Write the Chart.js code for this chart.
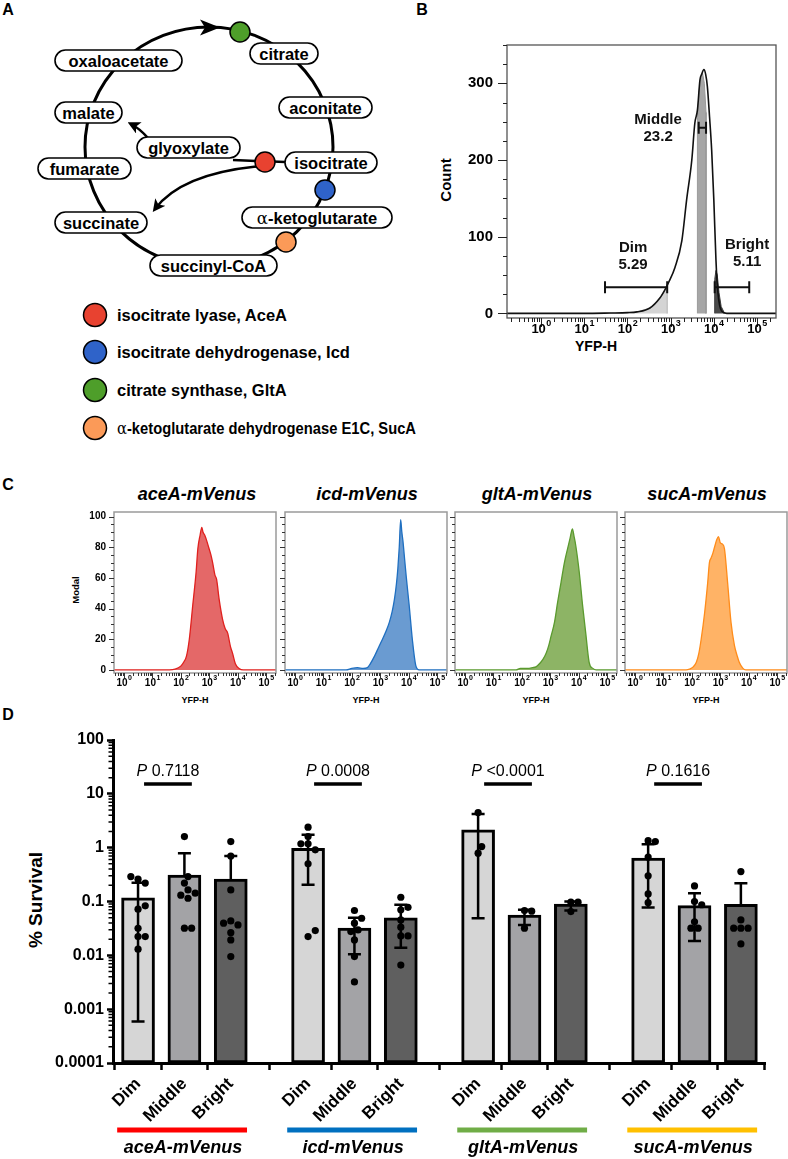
<!DOCTYPE html>
<html>
<head>
<meta charset="utf-8">
<script src="https://cdn.jsdelivr.net/npm/chart.js@4.4.1/dist/chart.umd.min.js"></script>
<style>
  html, body { margin: 0; padding: 0; background: #fff; }
  #page { position: relative; width: 788px; height: 1159px; overflow: hidden;
          font-family: "Liberation Sans", Arial, Helvetica, sans-serif; color: #000; }
  .t { position: absolute; white-space: nowrap; font-weight: bold; line-height: 1; transform: translate(-50%, -50%); }
  .v { position: absolute; white-space: nowrap; font-weight: bold; line-height: 1; transform: translate(-50%, -50%) rotate(-90deg); }
  .it { font-style: italic; }
  canvas { position: absolute; }
</style>
</head>
<body>
<div id="page">

  <!-- A: ciclo TCA / shunt del gliossilato -->
  <svg width="788" height="450" style="position:absolute;left:0;top:0"
       font-family="Liberation Sans, Arial, sans-serif" font-weight="bold" font-size="16.5">
    <defs>
      <marker id="ah" viewBox="0 0 10 10" refX="7" refY="5" markerWidth="5" markerHeight="5" orient="auto">
        <path d="M0,0 L10,5 L0,10 L2.5,5 Z" fill="#000"/>
      </marker>
    </defs>
    <ellipse cx="209" cy="147" rx="124" ry="120" fill="none" stroke="#000" stroke-width="3"/>
    <path d="M200,19.5 L220,27.5 L200,35.5 L205,27.5 Z" fill="#000"/>
    <path d="M233,160 L285,162" stroke="#000" stroke-width="2.5"/>
    <path d="M148,138 Q139,128 131,124" fill="none" stroke="#000" stroke-width="2.5" marker-end="url(#ah)"/>
    <path d="M262,166 Q182,173 155,209" fill="none" stroke="#000" stroke-width="2.5" marker-end="url(#ah)"/>

    <g fill="#fff" stroke="#000" stroke-width="1.6">
      <rect x="55" y="50" width="127" height="21" rx="10.5"/>
      <rect x="250" y="43" width="68" height="21" rx="10.5"/>
      <rect x="279" y="97" width="93" height="21" rx="10.5"/>
      <rect x="55" y="102" width="67" height="21" rx="10.5"/>
      <rect x="137" y="137" width="103" height="21" rx="10.5"/>
      <rect x="285" y="152" width="92" height="21" rx="10.5"/>
      <rect x="38" y="158" width="93" height="21" rx="10.5"/>
      <rect x="242" y="207" width="150" height="21" rx="10.5"/>
      <rect x="55" y="212" width="92" height="21" rx="10.5"/>
      <rect x="150" y="255" width="127" height="21" rx="10.5"/>
    </g>
    <g text-anchor="middle" dominant-baseline="central" fill="#000">
      <text x="118.5" y="61">oxaloacetate</text>
      <text x="284" y="54">citrate</text>
      <text x="325.5" y="108">aconitate</text>
      <text x="88.5" y="113">malate</text>
      <text x="188.5" y="148">glyoxylate</text>
      <text x="331" y="163">isocitrate</text>
      <text x="84.5" y="169">fumarate</text>
      <text x="317" y="218"><tspan font-family="DejaVu Serif, Liberation Serif, serif" font-weight="normal">α</tspan>-ketoglutarate</text>
      <text x="101" y="223">succinate</text>
      <text x="213.5" y="266">succinyl-CoA</text>
    </g>
    <g stroke="#000" stroke-width="1.5">
      <circle cx="240" cy="32" r="10" fill="#4e9e2a"/>
      <circle cx="265" cy="162" r="10" fill="#e84230"/>
      <circle cx="325" cy="190" r="10" fill="#2f63c9"/>
      <circle cx="286" cy="242" r="10" fill="#fb9a58"/>
      <circle cx="95" cy="315" r="11.5" fill="#e84230"/>
      <circle cx="95" cy="352" r="11.5" fill="#2f63c9"/>
      <circle cx="95" cy="390" r="11.5" fill="#4e9e2a"/>
      <circle cx="95" cy="428" r="11.5" fill="#fb9a58"/>
    </g>
    <g font-size="16.5" dominant-baseline="central" fill="#000">
      <text x="117" y="315">isocitrate lyase, AceA</text>
      <text x="117" y="352">isocitrate dehydrogenase, Icd</text>
      <text x="117" y="390">citrate synthase, GltA</text>
      <text x="117" y="428" textLength="299" lengthAdjust="spacingAndGlyphs"><tspan font-family="DejaVu Serif, Liberation Serif, serif" font-weight="normal">α</tspan>-ketoglutarate dehydrogenase E1C, SucA</text>
    </g>
  </svg>

  <div class="t" style="left:8px;top:10px;font-size:16px">A</div>
  <div class="t" style="left:422px;top:10px;font-size:16px">B</div>
  <div class="t" style="left:8px;top:485px;font-size:16px">C</div>
  <div class="t" style="left:8px;top:715px;font-size:16px">D</div>

  <div class="v" style="left:445px;top:180px;font-size:15px">Count</div>
  <div class="t" style="left:596px;top:346px;font-size:14px">YFP-H</div>

  <div class="t it" style="left:197px;top:494px;font-size:18px">aceA-mVenus</div>
  <div class="t it" style="left:367px;top:494px;font-size:18px">icd-mVenus</div>
  <div class="t it" style="left:537px;top:494px;font-size:18px">gltA-mVenus</div>
  <div class="t it" style="left:707px;top:494px;font-size:18px">sucA-mVenus</div>
  <div class="v" style="left:76px;top:590px;font-size:9.5px">Modal</div>
  <div class="t" style="left:195px;top:700px;font-size:9px">YFP-H</div>
  <div class="t" style="left:366px;top:700px;font-size:9px">YFP-H</div>
  <div class="t" style="left:536px;top:700px;font-size:9px">YFP-H</div>
  <div class="t" style="left:706px;top:700px;font-size:9px">YFP-H</div>

  <div class="v" style="left:35px;top:900px;font-size:19px">% Survival</div>

  <canvas id="cB" width="368" height="329" style="left:420px;top:21px"></canvas>
  <canvas id="cC0" width="210" height="209" style="left:69px;top:496px"></canvas>
  <canvas id="cC1" width="210" height="209" style="left:240px;top:496px"></canvas>
  <canvas id="cC2" width="210" height="209" style="left:410px;top:496px"></canvas>
  <canvas id="cC3" width="210" height="209" style="left:580px;top:496px"></canvas>
  <canvas id="cD" width="788" height="434" style="left:0;top:725px"></canvas>
</div>

<script>
const FONT = '"Liberation Sans", Arial, Helvetica, sans-serif';

// ---- B: istogramma YFP-H (x = log10 fluorescenza) ----
const bAllX = [-0.8, 1.0, 1.6, 2.0, 2.22, 2.52, 2.75, 2.87, 2.95, 3.1, 3.26, 3.37, 3.49, 3.56, 3.62, 3.68, 3.72, 3.77, 3.81, 3.85, 3.9, 3.95, 4.0, 4.05, 4.09, 4.18, 4.3, 5.44];
const bAllY = [0, 0, 0.5, 1, 2, 7, 20, 31, 40, 60, 95, 148, 200, 248, 265, 305, 312, 318, 312, 296, 257, 213, 148, 69, 30, 3, 0, 0];
const bDimX = [1.48, 2.0, 2.22, 2.52, 2.75, 2.87, 2.92, 2.92];
const bDimY = [0, 1, 2, 7, 20, 31, 38, 0];
const bMidX = [3.62, 3.62, 3.66, 3.70, 3.74, 3.78, 3.82, 3.82];
const bMidY = [0, 255, 290, 308, 313, 300, 262, 0];
const bBrtX = [4.02, 4.02, 4.05, 4.08, 4.12, 4.17, 4.25];
const bBrtY = [0, 44, 56, 50, 27, 9, 0];
const bGateName = ['Dim', 'Middle', 'Bright'];
const bGatePct = ['5.29', '23.2', '5.11'];
const bGateLo = [1.48, 3.65, 4.02];
const bGateHi = [2.92, 3.82, 4.82];
const bGateAt = [34, 242, 34];
const bLabelX = [2.13, 2.71, 4.77];
const bLabelY = [85, 252, 90];
const bYTicks = [0, 100, 200, 300];

// ---- C: istogrammi normalizzati (Modal) ----
const cYTicks = [0, 20, 40, 60, 80, 100];
const aceX = [-0.35, 1.6, 1.8, 2.0, 2.1, 2.2, 2.3, 2.42, 2.54, 2.6, 2.68, 2.74, 2.78, 2.84, 2.9, 2.98, 3.06, 3.12, 3.2, 3.26, 3.35, 3.47, 3.56, 3.65, 3.75, 3.82, 3.92, 4.05, 4.2, 5.35];
const aceY = [0, 0, 0.5, 2.5, 5, 9, 20, 42, 64, 79, 88, 93, 90, 88, 85, 80, 75, 70, 62, 59, 46, 33, 27, 24, 15, 11, 4, 1, 0, 0];
const icdX = [-0.35, 1.8, 2.0, 2.2, 2.4, 2.55, 2.65, 2.8, 2.95, 3.08, 3.2, 3.32, 3.42, 3.5, 3.57, 3.62, 3.67, 3.72, 3.76, 3.8, 3.86, 3.92, 4.02, 4.13, 4.25, 4.37, 5.35];
const icdY = [0, 0, 1, 1.5, 1, 1.5, 4, 9, 15, 20, 25, 31, 38, 46, 56, 66, 80, 98, 90, 84, 72, 60, 42, 20, 3, 0, 0];
const gltX = [-0.35, 1.8, 1.95, 2.2, 2.38, 2.5, 2.62, 2.75, 2.86, 2.95, 3.03, 3.15, 3.26, 3.38, 3.5, 3.61, 3.7, 3.78, 3.84, 3.9, 4.02, 4.14, 4.25, 4.37, 4.5, 4.62, 5.35];
const gltY = [0, 0, 1, 1, 1.5, 2, 4, 7, 11, 16, 22, 31, 44, 57, 70, 79, 86, 92, 87, 81, 64, 42, 24, 5, 1, 0, 0];
const sucX = [-0.35, 1.8, 1.92, 2.05, 2.16, 2.25, 2.33, 2.45, 2.56, 2.62, 2.68, 2.74, 2.8, 2.88, 2.94, 3.0, 3.08, 3.15, 3.26, 3.38, 3.5, 3.6, 3.67, 3.8, 3.9, 5.35];
const sucY = [0, 0, 0.5, 2, 5, 11, 20, 37, 57, 70, 73, 76, 80, 85, 87, 83, 82, 79, 57, 31, 16, 9, 5, 1, 0, 0];

// ---- D: % sopravvivenza per ceppo e gate ----
const strains = ['aceA-mVenus', 'icd-mVenus', 'gltA-mVenus', 'sucA-mVenus'];
const strainColors = ['#ff0000', '#0070c0', '#70ad47', '#ffc000'];
const gateNames = ['Dim', 'Middle', 'Bright'];
const gateFill = ['#d6d6d6', '#a3a3a6', '#5f5f5f'];
const survMean = [0.117, 0.31, 0.26, 0.97, 0.032, 0.05, 2.14, 0.056, 0.09, 0.64, 0.084, 0.089];
const survHigh = [0.224, 0.79, 0.70, 1.73, 0.050, 0.087, 4.2, 0.07, 0.10, 1.16, 0.143, 0.218];
const survLow = [0.00059, null, null, 0.204, 0.0105, 0.0139, 0.049, 0.0367, 0.068, 0.077, 0.0185, null];
const survDots = [
  [0.26, 0.22, 0.29, 0.072, 0.083, 0.0223, 0.0223, 0.0318, 0.013],
  [1.61, 0.22, 0.29, 0.164, 0.131, 0.115, 0.143, 0.032, 0.032],
  [1.30, 0.70, 0.164, 0.0436, 0.0367, 0.0395, 0.0264, 0.0193, 0.0095],
  [2.40, 1.61, 1.18, 0.91, 1.18, 0.50, 0.0223, 0.0288],
  [0.068, 0.0395, 0.0489, 0.0297, 0.0276, 0.0193, 0.0095, 0.0032],
  [0.12, 0.070, 0.078, 0.0455, 0.0333, 0.0229, 0.0229, 0.0066],
  [4.49, 0.79, 1.05],
  [0.068, 0.066, 0.032],
  [0.097, 0.097, 0.065],
  [1.35, 1.30, 0.67, 0.30, 0.138, 0.095],
  [0.195, 0.1, 0.087, 0.042, 0.032, 0.032],
  [0.36, 0.0455, 0.032, 0.032, 0.032, 0.0163]
];
const pText = ['0.7118', '0.0008', '<0.0001', '0.1616'];
const pLineAt = 15.3, pTextAt = 25.6;
const yDecades = [1e-4, 1e-3, 1e-2, 1e-1, 1, 10, 100];

const pts = (xs, ys) => xs.map((x, i) => ({ x, y: ys[i] }));
const barPos = survMean.map((_, i) => Math.floor(i / 3) * 11 / 3 + (i % 3));

// "10" con esponente, come nelle etichette FlowJo
function drawPow(ctx, x, top, e, size) {
  const big = `bold ${size}px ${FONT}`, small = `bold ${Math.round(size * 0.72)}px ${FONT}`;
  ctx.font = big; const w1 = ctx.measureText('10').width;
  ctx.font = small; const w2 = ctx.measureText(String(e)).width;
  const x0 = x - (w1 + w2) / 2;
  ctx.textBaseline = 'top'; ctx.textAlign = 'left'; ctx.fillStyle = '#000';
  ctx.font = big; ctx.fillText('10', x0, top);
  ctx.font = small; ctx.fillText(String(e), x0 + w1 + 0.5, top - size * 0.32);
}

// cornice + tacche (maggiori/minori) per gli istogrammi citometrici
function flowDecor(o) {
  return {
    id: 'flowDecor',
    afterDraw(chart) {
      const { ctx, chartArea: a, scales: { x, y } } = chart;
      ctx.save();
      ctx.strokeStyle = o.frame; ctx.lineWidth = o.frameW;
      ctx.strokeRect(a.left, a.top, a.right - a.left, a.bottom - a.top);
      ctx.strokeStyle = o.tick; ctx.lineWidth = 1;
      ctx.beginPath();
      for (let v = Math.ceil(y.min / o.yMinor) * o.yMinor; v <= y.max; v += o.yMinor) {
        const py = Math.round(y.getPixelForValue(v)) + 0.5;
        ctx.moveTo(a.left, py); ctx.lineTo(a.left - (v % o.yMajor === 0 ? o.majLen : o.minLen), py);
      }
      for (let d = Math.floor(x.min); d <= Math.ceil(x.max); d++) {
        for (let k = 1; k <= 9; k++) {
          const v = d + Math.log10(k);
          if (v < x.min || v > x.max) continue;
          const px = Math.round(x.getPixelForValue(v)) + 0.5;
          ctx.moveTo(px, a.bottom); ctx.lineTo(px, a.bottom + (k === 1 ? o.majLen : o.minLen));
        }
      }
      ctx.stroke();
      for (let d = 0; d <= 5; d++) drawPow(ctx, x.getPixelForValue(d), a.bottom + o.labGap, d, o.labSize);
      ctx.restore();
    }
  };
}

const bGates = {
  id: 'bGates',
  afterDatasetsDraw(chart) {
    const { ctx, scales: { x, y } } = chart;
    ctx.save();
    ctx.strokeStyle = '#111'; ctx.fillStyle = '#111'; ctx.lineWidth = 2;
    bGateLo.forEach((lo, i) => {
      const x0 = x.getPixelForValue(lo), x1 = x.getPixelForValue(bGateHi[i]), py = y.getPixelForValue(bGateAt[i]);
      ctx.beginPath();
      ctx.moveTo(x0, py); ctx.lineTo(x1, py);
      ctx.moveTo(x0, py - 6); ctx.lineTo(x0, py + 6);
      ctx.moveTo(x1, py - 6); ctx.lineTo(x1, py + 6);
      ctx.stroke();
      const lx = x.getPixelForValue(bLabelX[i]), ly = y.getPixelForValue(bLabelY[i]);
      ctx.font = `bold 15px ${FONT}`; ctx.textAlign = 'center'; ctx.textBaseline = 'middle';
      ctx.fillText(bGateName[i], lx, ly);
      ctx.fillText(bGatePct[i], lx, ly + 17);
    });
    ctx.restore();
  }
};

const common = {
  responsive: false, animation: false, events: [], devicePixelRatio: 1,
  plugins: { legend: { display: false }, tooltip: { enabled: false } }
};

// ---- B ----
new Chart(document.getElementById('cB'), {
  type: 'line',
  data: {
    datasets: [
      { data: pts(bAllX, bAllY), fill: false, borderColor: '#111', borderWidth: 1.6, pointRadius: 0, cubicInterpolationMode: 'monotone' },
      { data: pts(bDimX, bDimY), fill: 'origin', backgroundColor: '#d4d4d4', borderColor: '#c6c6c6', borderWidth: 1, pointRadius: 0, tension: 0 },
      { data: pts(bMidX, bMidY), fill: 'origin', backgroundColor: '#a6a6a6', borderColor: '#999', borderWidth: 1, pointRadius: 0, tension: 0 },
      { data: pts(bBrtX, bBrtY), fill: 'origin', backgroundColor: '#4a4a4a', borderColor: '#3a3a3a', borderWidth: 1, pointRadius: 0, tension: 0 }
    ]
  },
  options: {
    ...common,
    layout: { padding: { top: 24, right: 12, left: 0, bottom: 0 } },
    scales: {
      x: { type: 'linear', min: -0.79, max: 5.44, afterFit: s => { s.height = 32; },
           ticks: { display: false }, grid: { display: false }, border: { display: false } },
      y: { type: 'linear', min: -6, max: 350, afterFit: s => { s.width = 87; },
           afterBuildTicks: s => { s.ticks = bYTicks.map(v => ({ value: v })); },
           ticks: { padding: 14, color: '#000', font: { family: FONT, size: 15, weight: 'bold' } },
           grid: { display: false, drawTicks: false }, border: { display: false } }
    }
  },
  plugins: [flowDecor({ frame: '#555', frameW: 1.3, tick: '#222', yMajor: 100, yMinor: 25, majLen: 9, minLen: 4, labGap: 5, labSize: 13 }), bGates]
});

// ---- C ----
function flowHist(id, xs, ys, fillCol, lineCol, showY) {
  return new Chart(document.getElementById(id), {
    type: 'line',
    data: { datasets: [{ data: pts(xs, ys), fill: 'origin', backgroundColor: fillCol, borderColor: lineCol, borderWidth: 1.3, pointRadius: 0, cubicInterpolationMode: 'monotone' }] },
    options: {
      ...common,
      layout: { padding: { top: 16, right: 3, left: 0, bottom: 0 } },
      scales: {
        x: { type: 'linear', min: -0.35, max: 5.35, afterFit: s => { s.height = 32; },
             ticks: { display: false }, grid: { display: false }, border: { display: false } },
        y: { type: 'linear', min: -2, max: 103, afterFit: s => { s.width = 45; },
             afterBuildTicks: s => { s.ticks = cYTicks.map(v => ({ value: v })); },
             ticks: { display: showY, padding: 8, color: '#000', font: { family: FONT, size: 10, weight: 'bold' } },
             grid: { display: false, drawTicks: false }, border: { display: false } }
      }
    },
    plugins: [flowDecor({ frame: '#9a9a9a', frameW: 1.5, tick: '#333', yMajor: 20, yMinor: 5, majLen: 5, minLen: 3, labGap: 5, labSize: 10 })]
  });
}
flowHist('cC0', aceX, aceY, '#e46868', '#e0201e', true);
flowHist('cC1', icdX, icdY, '#6a9bd1', '#1f6fc0', false);
flowHist('cC2', gltX, gltY, '#8db465', '#5a9a2e', false);
flowHist('cC3', sucX, sucY, '#ffb366', '#ff8c1a', false);

// ---- D ----
const survDecor = {
  id: 'survDecor',
  afterDatasetDraw(chart, args) {
    if (args.index !== 1) return;        // barre di errore sopra le barre, sotto i punti
    const { ctx, scales: { x, y } } = chart;
    ctx.save();
    ctx.strokeStyle = '#000'; ctx.lineWidth = 2.5;
    barPos.forEach((p, i) => {
      const px = x.getPixelForValue(p);
      const yh = y.getPixelForValue(survHigh[i]);
      const yl = y.getPixelForValue(survLow[i] ?? survMean[i]);
      ctx.beginPath();
      ctx.moveTo(px, yl); ctx.lineTo(px, yh);
      ctx.moveTo(px - 6.5, yh); ctx.lineTo(px + 6.5, yh);
      if (survLow[i] != null) { ctx.moveTo(px - 6.5, yl); ctx.lineTo(px + 6.5, yl); }
      ctx.stroke();
    });
    ctx.restore();
  },
  afterDraw(chart) {
    const { ctx, chartArea: a, scales: { x, y } } = chart;
    ctx.save();
    ctx.strokeStyle = '#000'; ctx.lineWidth = 1.5;
    ctx.beginPath();
    for (let d = -4; d < 2; d++) for (let k = 2; k <= 9; k++) {
      const py = y.getPixelForValue(k * Math.pow(10, d));
      ctx.moveTo(a.left - 1, py); ctx.lineTo(a.left - 4.5, py);
    }
    ctx.stroke();
    strains.forEach((s, g) => {
      const x0 = x.getPixelForValue(barPos[g * 3] + 0.13), x1 = x.getPixelForValue(barPos[g * 3 + 1] + 0.16);
      const ly = y.getPixelForValue(pLineAt), ty = y.getPixelForValue(pTextAt);
      ctx.strokeStyle = '#000'; ctx.lineWidth = 3.5;
      ctx.beginPath(); ctx.moveTo(x0, ly); ctx.lineTo(x1, ly); ctx.stroke();
      const fI = `italic 16px ${FONT}`, fN = `16px ${FONT}`;
      ctx.font = fI; const wP = ctx.measureText('P').width;
      ctx.font = fN; const wV = ctx.measureText(' ' + pText[g]).width;
      const tx = (x0 + x1) / 2 - (wP + wV) / 2;
      ctx.fillStyle = '#000'; ctx.textAlign = 'left'; ctx.textBaseline = 'middle';
      ctx.font = fI; ctx.fillText('P', tx, ty);
      ctx.font = fN; ctx.fillText(' ' + pText[g], tx + wP, ty);
      // barra colorata e nome del ceppo
      const gx0 = x.getPixelForValue(barPos[g * 3] - 0.45), gx1 = x.getPixelForValue(barPos[g * 3 + 2] + 0.35);
      ctx.strokeStyle = strainColors[g]; ctx.lineWidth = 5;
      ctx.beginPath(); ctx.moveTo(gx0, a.bottom + 67); ctx.lineTo(gx1, a.bottom + 67); ctx.stroke();
      ctx.font = `italic bold 18px ${FONT}`; ctx.textAlign = 'center';
      ctx.fillText(s, x.getPixelForValue(barPos[g * 3 + 1] - 0.03), a.bottom + 85);
    });
    ctx.restore();
  }
};

const chartD = new Chart(document.getElementById('cD'), {
  type: 'bar',
  data: {
    datasets: [
      { type: 'scatter', data: [], pointRadius: 3.6, backgroundColor: '#000', borderWidth: 0 },
      { type: 'bar', data: barPos.map((x, i) => ({ x, y: survMean[i] })),
        backgroundColor: survMean.map((_, i) => gateFill[i % 3]), borderColor: '#000', borderWidth: 3,
        borderSkipped: false, barThickness: 33, grouped: false }
    ]
  },
  options: {
    ...common,
    layout: { padding: { top: 15, right: 23, left: 0, bottom: 0 } },
    scales: {
      x: { type: 'linear', min: -0.54, max: 13.52, offset: false,
           afterBuildTicks: s => { s.ticks = barPos.map(v => ({ value: v })); },
           afterFit: s => { s.height = 96; },
           ticks: { autoSkip: false, minRotation: 45, maxRotation: 45, padding: 4, color: '#000',
                    font: { family: FONT, size: 17, weight: 'bold' }, callback: (v, i) => gateNames[i % 3] },
           grid: { drawOnChartArea: false, drawTicks: true, tickLength: 7, tickWidth: 2.5, tickColor: '#000' },
           border: { display: true, width: 3, color: '#000' } },
      y: { type: 'logarithmic', min: 1e-4, max: 100,
           afterBuildTicks: s => { s.ticks = yDecades.map(v => ({ value: v })); },
           afterFit: s => { s.width = 113; },
           ticks: { padding: 3, color: '#000', font: { family: FONT, size: 16, weight: 'bold' },
                    callback: v => v >= 1 ? String(Math.round(v)) : v.toFixed(Math.round(-Math.log10(v))) },
           grid: { drawOnChartArea: false, drawTicks: true, tickLength: 6, tickWidth: 2.5, tickColor: '#000' },
           border: { display: true, width: 3, color: '#000' } }
    }
  },
  plugins: [survDecor]
});

// punti singoli: disposizione a sciame (beeswarm) attorno al centro della barra
(function swarm(chart) {
  const { x, y } = chart.scales;
  const unit = x.getPixelForValue(1) - x.getPixelForValue(0);
  const out = [];
  survDots.forEach((vals, b) => {
    const placed = [];
    vals.forEach(v => {
      const py = y.getPixelForValue(v);
      let off = 0;
      for (let i = 0; i < 40; i++) {
        off = (i % 2 ? 1 : -1) * Math.ceil(i / 2) * 3.6;
        if (placed.every(p => Math.hypot(p[0] - off, p[1] - py) >= 7.2)) break;
      }
      placed.push([off, py]);
      out.push({ x: barPos[b] + off / unit, y: v });
    });
  });
  chart.data.datasets[0].data = out;
  chart.update('none');
})(chartD);
</script>
</body>
</html>
